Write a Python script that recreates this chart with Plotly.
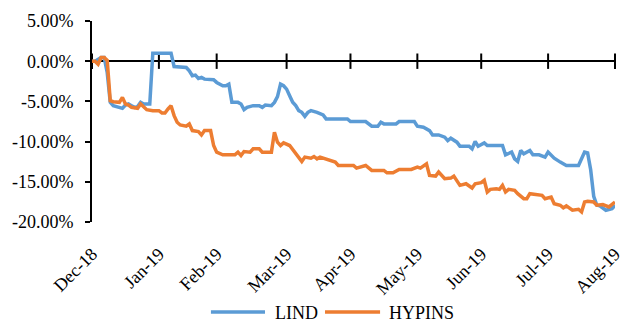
import plotly.graph_objects as go

# Cumulative return (%) by trading session since the start of December 2018
series_names = ["LIND", "HYPINS"]
series_colors = ["#5B9BD5", "#ED7D31"]

lind_day = [0, 1, 3, 4, 5, 6, 7, 9, 10, 11, 12, 13, 14, 15, 16, 17, 19, 20, 26, 27,
            31, 32, 33, 34, 35, 36, 37, 40, 41, 43, 44, 45, 46, 48, 49, 50, 51, 53, 55, 56,
            57, 59, 60, 61, 62, 63, 64, 65, 66, 67, 68, 69, 70, 71, 72, 74, 75, 76, 77, 84,
            85, 90, 92, 94, 95, 96, 100, 101, 106, 107, 109, 111, 112, 114, 116, 117, 118, 120, 121, 124,
            125, 126, 127, 128, 129, 130, 135, 136, 138, 139, 140, 141, 142, 144, 145, 147, 149, 150, 152, 154,
            156, 160, 161, 162, 163, 164, 165, 166, 167, 169, 171, 172]
lind_ret = [0.0, 0.0, 0.46, 0.46, -1.40, -5.12, -5.53, -5.74, -5.86, -5.45, -5.32, -5.53, -5.74, -5.65, -5.12, -5.32, -5.32, 1.00, 1.00, -0.66,
            -0.78, -1.19, -1.81, -1.73, -2.14, -2.02, -2.23, -2.31, -2.64, -3.05, -3.05, -2.85, -5.12, -5.12, -5.32, -6.03, -5.74, -5.53, -5.53, -5.74,
            -5.45, -5.53, -5.12, -4.40, -2.85, -3.05, -3.47, -4.29, -5.10, -5.53, -6.15, -6.36, -6.85, -6.36, -6.15, -6.36, -6.50, -6.69, -7.18, -7.18,
            -7.51, -7.51, -8.09, -8.09, -7.60, -7.80, -7.80, -7.51, -7.51, -8.09, -8.22, -8.63, -9.17, -9.17, -9.45, -9.87, -9.58, -10.07, -10.57, -10.57,
            -10.90, -9.99, -10.57, -10.41, -10.16, -10.49, -10.49, -11.64, -11.31, -12.14, -12.47, -11.11, -11.52, -11.11, -11.64, -11.64, -11.93, -11.31, -12.06, -12.55,
            -12.97, -12.97, -12.14, -11.31, -11.40, -13.50, -16.80, -17.90, -18.00, -18.54, -18.34, -17.92]

hypins_day = [0, 1, 2, 3, 4, 5, 6, 7, 9, 10, 11, 12, 13, 15, 16, 17, 18, 20, 22, 23,
              24, 25, 26, 27, 28, 29, 31, 32, 33, 35, 36, 37, 39, 40, 41, 43, 47, 48, 49, 50,
              52, 53, 55, 56, 59, 60, 61, 62, 63, 65, 66, 68, 69, 70, 72, 73, 74, 75, 76, 78,
              80, 81, 86, 87, 90, 92, 96, 97, 99, 101, 105, 107, 108, 110, 111, 113, 114, 116, 118, 119,
              120, 121, 123, 125, 126, 128, 129, 130, 131, 133, 134, 135, 136, 137, 139, 140, 142, 143, 144, 146,
              148, 149, 151, 152, 154, 155, 156, 158, 160, 161, 162, 163, 165, 166, 168, 170, 171, 172]
hypins_ret = [0.0, 0.0, -0.37, 0.46, 0.46, 0.10, -4.91, -5.04, -5.12, -4.50, -5.32, -5.45, -5.74, -5.86, -5.32, -5.74, -6.03, -6.15, -6.15, -6.44,
              -6.44, -5.94, -5.53, -6.77, -7.60, -7.93, -8.09, -7.80, -8.63, -8.75, -9.17, -8.63, -8.63, -10.49, -11.31, -11.64, -11.64, -11.31, -11.73, -11.23,
              -11.31, -10.90, -10.90, -11.31, -11.31, -8.83, -10.07, -10.49, -10.16, -10.49, -10.98, -11.93, -12.47, -11.93, -12.06, -11.85, -12.14, -11.93, -12.06, -12.22,
              -12.55, -12.97, -12.97, -13.30, -12.97, -13.59, -13.59, -13.88, -13.88, -13.46, -13.46, -13.17, -13.30, -12.76, -14.20, -14.29, -13.79, -14.62, -14.54, -14.29,
              -14.82, -15.44, -15.24, -15.77, -15.24, -15.11, -14.82, -16.27, -15.94, -15.86, -15.94, -15.44, -16.27, -15.94, -16.06, -16.48, -17.10, -17.10, -16.48, -16.60,
              -16.68, -17.10, -16.89, -17.72, -17.92, -18.25, -18.00, -18.54, -18.42, -18.75, -17.51, -17.43, -17.51, -17.92, -17.84, -18.13, -17.84, -17.51]

# Month labels and the session at which each month begins
month_labels = ["Dec-18", "Jan-19", "Feb-19", "Mar-19", "Apr-19", "May-19", "Jun-19", "Jul-19", "Aug-19"]
month_session = [0, 22, 41, 64, 85, 107, 128, 150, 172]

y_ticks = [5, 0, -5, -10, -15, -20]
y_labels = [f"{v:.2f}%" for v in y_ticks]

FONT = "Liberation Serif, Times New Roman, serif"

fig = go.Figure()

# Tick marks crossing the horizontal axis at 0%
fig.add_trace(go.Scatter(
    x=month_session, y=[0] * len(month_session), mode="markers",
    marker=dict(symbol="line-ns", size=11, line=dict(width=2, color="black")),
    hoverinfo="skip", showlegend=False, cliponaxis=False,
))

for name, color, xs, ys in [
    (series_names[0], series_colors[0], lind_day, lind_ret),
    (series_names[1], series_colors[1], hypins_day, hypins_ret),
]:
    fig.add_trace(go.Scatter(
        x=xs, y=ys, mode="lines", name=name,
        line=dict(color=color, width=3.5),
        showlegend=False,
    ))

# Legend drawn below the axis labels
legend_y = -0.448
legend_items = [
    (series_names[0], series_colors[0], 0.2274, 0.3308, 0.3459),
    (series_names[1], series_colors[1], 0.4455, 0.5508, 0.5639),
]
shapes = []
annotations = []
for name, color, x0, x1, xt in legend_items:
    shapes.append(dict(type="line", xref="paper", yref="paper",
                       x0=x0, x1=x1, y0=legend_y, y1=legend_y,
                       line=dict(color=color, width=3.5)))
    annotations.append(dict(text=name, xref="paper", yref="paper",
                            x=xt, y=legend_y - 0.005, xanchor="left", yanchor="middle",
                            showarrow=False, font=dict(family=FONT, size=18, color="black")))

fig.update_layout(
    width=626, height=322,
    margin=dict(l=92, r=2, t=21, b=100),
    paper_bgcolor="white", plot_bgcolor="white",
    font=dict(family=FONT, size=18, color="black"),
    shapes=shapes, annotations=annotations,
    showlegend=False,
    xaxis=dict(
        range=[0, 172], tickmode="array", tickvals=month_session, ticktext=month_labels,
        tickangle=-45, showgrid=False, zeroline=False, showline=False, ticks="",
        ticklabeloverflow="allow", ticklabelstandoff=17,
        tickfont=dict(family=FONT, size=18, color="black"),
    ),
    yaxis=dict(
        range=[-20, 5], tickmode="array", tickvals=y_ticks, ticktext=y_labels,
        showgrid=False, zeroline=True, zerolinecolor="black", zerolinewidth=2,
        showline=True, linecolor="black", linewidth=2,
        ticks="outside", ticklen=5, tickwidth=2, tickcolor="black",
        ticklabelstandoff=8,
        tickfont=dict(family=FONT, size=18, color="black"),
    ),
)

fig.write_html("out.html")
